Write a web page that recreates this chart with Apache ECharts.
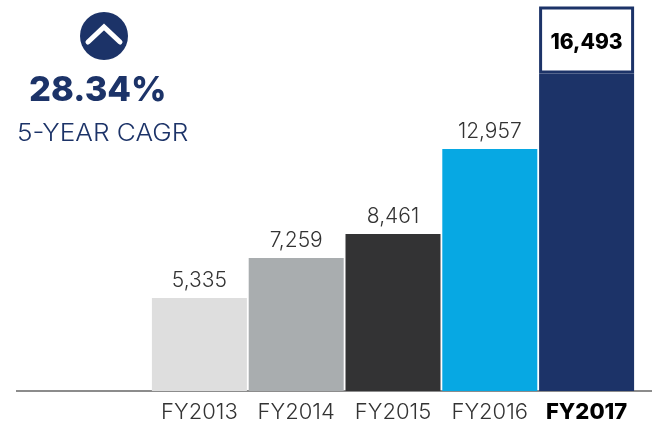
<!DOCTYPE html>
<html>
<head>
<meta charset="utf-8">
<style>
  html, body { margin: 0; padding: 0; background: #fff; }
  #chart { width: 652px; height: 423px; }
</style>
<script src="https://cdn.jsdelivr.net/npm/echarts@6/dist/echarts.min.js"></script>
</head>
<body>
<div id="chart"></div>
<script>
const categories = ['FY2013', 'FY2014', 'FY2015', 'FY2016', 'FY2017']
const printedValues = ['5,335', '7,259', '8,461', '12,957', '16,493']
// the artwork is not quite to scale, so bar lengths are read off the picture
const barLengths = [4980, 7120, 8400, 12957, 17000]
const capLengths = [null, null, null, null, 3580]
const barColors = ['#dedede', '#a9adaf', '#333334', '#07a8e3', '#1c3368']

const font = 'Inter'
const navy = '#1c3368'

const chart = echarts.init(document.getElementById('chart'))

chart.setOption({
    animation: false,
    backgroundColor: '#fff',
    grid: { left: 151, right: 17, top: 0, height: 391 },
    xAxis: {
        type: 'category',
        data: categories,
        axisLine: { show: false },
        axisTick: { show: false },
        axisLabel: {
            interval: 0,
            margin: 10,
            fontFamily: font,
            fontSize: 22,
            fontWeight: 300,
            color: '#333',
            formatter: (val, i) => i === 4 ? '{b|' + val + '}' : val,
            rich: { b: { fontFamily: font, fontSize: 22, fontWeight: 800, color: '#000' } }
        }
    },
    yAxis: { type: 'value', min: 0, max: 20930, show: false },
    series: [
        {
            type: 'bar',
            stack: 'total',
            barWidth: 95,
            data: barLengths.map((v, i) => ({ value: v, itemStyle: { color: barColors[i] } })),
            label: {
                show: true,
                position: 'top',
                distance: 7,
                fontFamily: font,
                fontSize: 21,
                fontWeight: 300,
                color: '#333',
                formatter: p => p.dataIndex < 4 ? printedValues[p.dataIndex] : ''
            }
        },
        {
            type: 'bar',
            stack: 'total',
            barWidth: 95,
            data: capLengths,
            itemStyle: { color: '#fff', borderColor: navy, borderWidth: 3 },
            label: {
                show: true,
                position: 'inside',
                offset: [0, 3],
                fontFamily: font,
                fontSize: 21,
                fontWeight: 800,
                color: '#000',
                formatter: p => printedValues[p.dataIndex]
            }
        }
    ],
    graphic: [
        { type: 'line', shape: { x1: 16, y1: 391, x2: 652, y2: 391 }, style: { stroke: '#8c8c8c', lineWidth: 2 } },
        { type: 'circle', shape: { cx: 104, cy: 36, r: 24 }, style: { fill: navy } },
        {
            type: 'polyline',
            shape: { points: [[88, 42], [104, 27], [120, 42]] },
            style: { stroke: '#fff', lineWidth: 5, lineCap: 'round', lineJoin: 'miter', fill: 'none' }
        },
        {
            type: 'text', x: 29, y: 73,
            style: { text: '28.34%', fontFamily: font, fontSize: 34.5, fontWeight: 800, fill: navy }
        },
        {
            type: 'text', x: 17, y: 122, scaleX: 1.09,
            style: { text: '5-YEAR CAGR', fontFamily: font, fontSize: 24, fontWeight: 300, fill: navy }
        }
    ]
})
</script>
</body>
</html>
